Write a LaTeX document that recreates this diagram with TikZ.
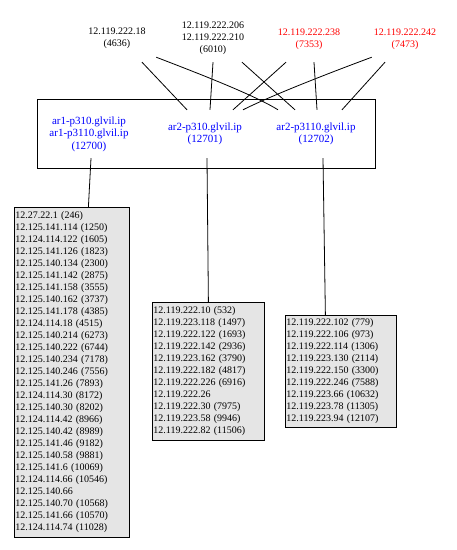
\documentclass[tikz,border=0pt]{standalone}
\usepackage{fontspec}
\setmainfont{Liberation Serif}
\definecolor{boxgray}{gray}{0.9}
\begin{document}
\begin{tikzpicture}[x=1pt,y=-1pt,
  every node/.style={font=\fontsize{10}{12}\selectfont},
  src/.style={draw=none, inner sep=0pt, align=center},
  tgt/.style={draw=none, inner sep=0pt, align=center, text=blue, font=\fontsize{11}{12.5}\selectfont, minimum width=90pt, minimum height=48pt},
  listbox/.style={draw, line width=0.8pt, fill=boxgray, anchor=north west, inner xsep=1pt, inner ysep=0pt, align=left},
  link/.style={line width=0.8pt}]
\useasboundingbox (0,0) rectangle (457,550);

% source labels
\node[src, minimum width=78pt, minimum height=47pt] (n4636) at (117,38.5) {12.119.222.18\\(4636)};
\node[src, minimum width=70pt, minimum height=48pt] (n6010) at (213,38) {12.119.222.206\\12.119.222.210\\(6010)};
\node[src, text=red, minimum width=70pt, minimum height=46pt] (n7353) at (309,39) {12.119.222.238\\(7353)};
\node[src, text=red, minimum width=66pt, minimum height=46pt] (n7473) at (405,39) {12.119.222.242\\(7473)};

% cluster
\node[draw, line width=0.8pt, anchor=north west, minimum width=338pt, minimum height=69pt, inner sep=0pt] (cl) at (37,99) {};
\node[tgt] (p1) at (89,134) {ar1-p310.glvil.ip\\ar1-p3110.glvil.ip\\(12700)};
\node[tgt] (p310) at (205,134) {ar2-p310.glvil.ip\\(12701)};
\node[tgt] (p3110) at (316,134) {ar2-p3110.glvil.ip\\(12702)};

% lists
\node[listbox, minimum width=115pt, minimum height=330pt, text width=113pt] (l1) at (14,207) {12.27.22.1 (246)\\
12.125.141.114 (1250)\\
12.124.114.122 (1605)\\
12.125.141.126 (1823)\\
12.125.140.134 (2300)\\
12.125.141.142 (2875)\\
12.125.141.158 (3555)\\
12.125.140.162 (3737)\\
12.125.141.178 (4385)\\
12.124.114.18 (4515)\\
12.125.140.214 (6273)\\
12.125.140.222 (6744)\\
12.125.140.234 (7178)\\
12.125.140.246 (7556)\\
12.125.141.26 (7893)\\
12.124.114.30 (8172)\\
12.125.140.30 (8202)\\
12.124.114.42 (8966)\\
12.125.140.42 (8989)\\
12.125.141.46 (9182)\\
12.125.140.58 (9881)\\
12.125.141.6 (10069)\\
12.124.114.66 (10546)\\
12.125.140.66\\
12.125.140.70 (10568)\\
12.125.141.66 (10570)\\
12.124.114.74 (11028)};

\node[listbox, minimum width=112pt, minimum height=138pt, text width=110pt] (l2) at (152,302) {12.119.222.10 (532)\\
12.119.223.118 (1497)\\
12.119.222.122 (1693)\\
12.119.222.142 (2936)\\
12.119.223.162 (3790)\\
12.119.222.182 (4817)\\
12.119.222.226 (6916)\\
12.119.222.26\\
12.119.222.30 (7975)\\
12.119.223.58 (9946)\\
12.119.222.82 (11506)};

\node[listbox, minimum width=111pt, minimum height=112pt, text width=109pt] (l3) at (285,315) {12.119.222.102 (779)\\
12.119.222.106 (973)\\
12.119.222.114 (1306)\\
12.119.223.130 (2114)\\
12.119.222.150 (3300)\\
12.119.222.246 (7588)\\
12.119.223.66 (10632)\\
12.119.223.78 (11305)\\
12.119.223.94 (12107)};

% edges from sources
\draw[link] ([xshift=25pt]n4636.south) -- ([xshift=-18pt]p310.north);
\draw[link] ([yshift=5pt]n4636.south east) .. controls +(39,15) and +(-24,-15) .. ([xshift=-38pt]p3110.north);
\draw[link] (n6010.south) -- ([xshift=5pt]p310.north);
\draw[link] ([xshift=29pt]n6010.south) -- ([xshift=-21pt]p3110.north);
\draw[link] ([xshift=-23pt]n7353.south) -- ([xshift=28pt]p310.north);
\draw[link] ([xshift=5pt]n7353.south) -- ([xshift=1pt]p3110.north);
\draw[link] ([yshift=5pt]n7473.south west) .. controls +(-40.5,15) and +(30,-15) .. ([xshift=38pt]p310.north);
\draw[link] ([xshift=-20pt]n7473.south) -- ([xshift=26pt]p3110.north);

% edges to lists
\draw[link] ([xshift=2pt]p1.south) -- ([xshift=16.5pt]l1.north);
\draw[link] ([xshift=2pt]p310.south) -- (l2.north);
\draw[link] ([xshift=7pt]p3110.south) -- ([xshift=-15.5pt]l3.north);
\end{tikzpicture}
\end{document}
